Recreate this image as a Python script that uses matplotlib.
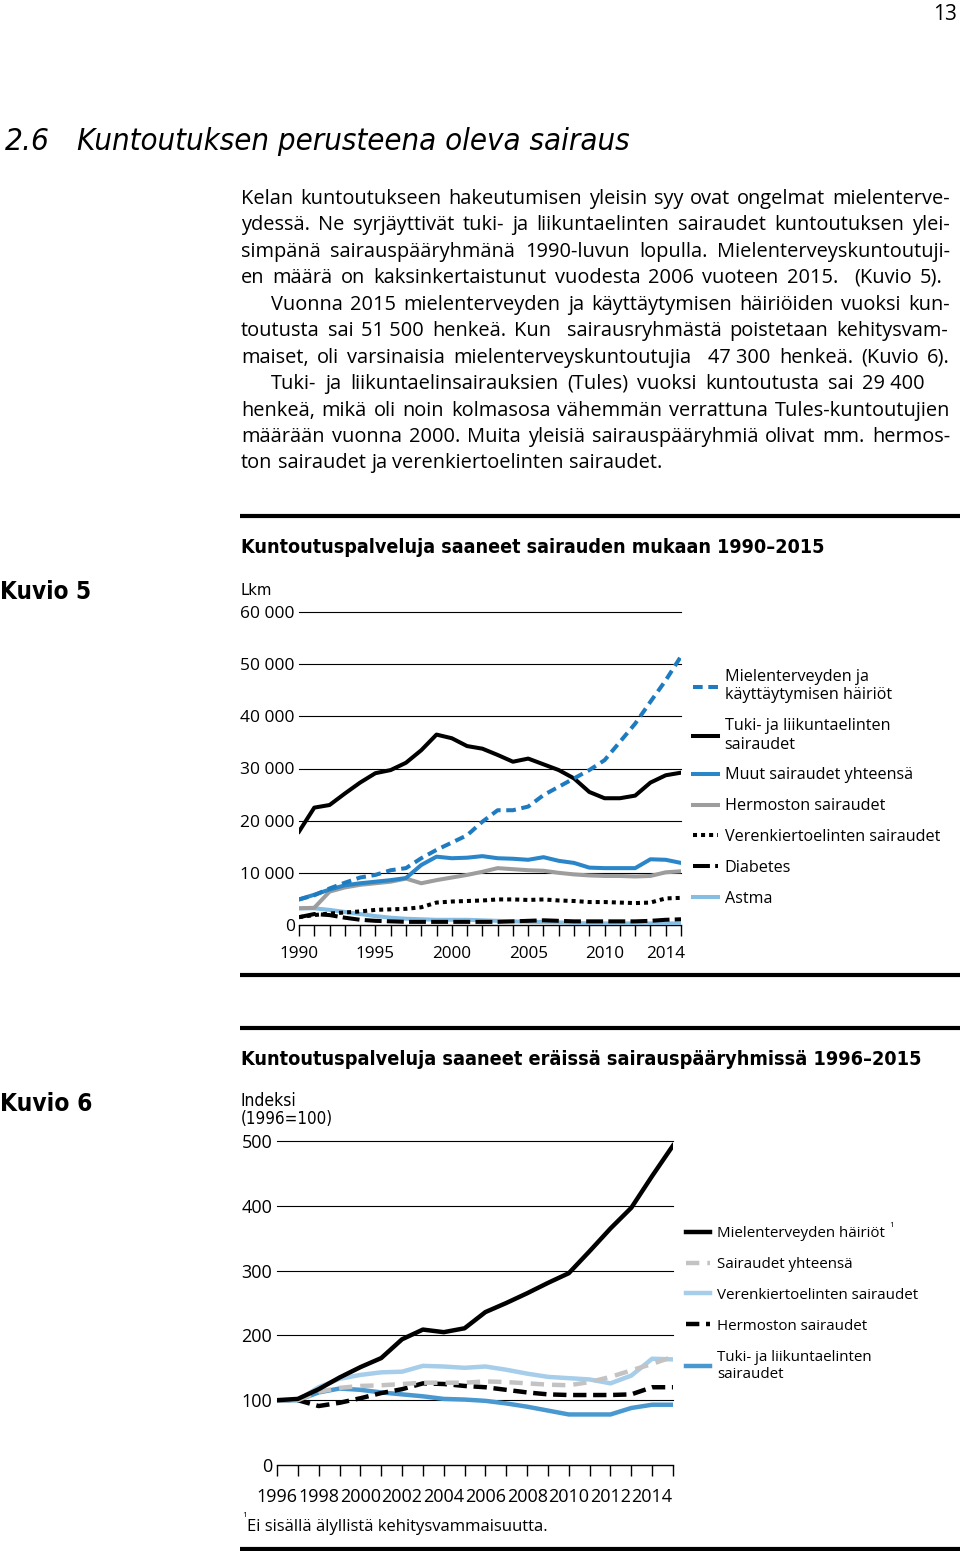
import matplotlib
matplotlib.use("Agg")
import matplotlib.pyplot as plt
from matplotlib import font_manager
from matplotlib.font_manager import FontProperties
from matplotlib.lines import Line2D

# ── Kuvio 5: Kuntoutuspalveluja saaneet sairauden mukaan 1990–2015 (lkm) ──
years5 = list(range(1990, 2016))
mielenterveys5 = [4900, 5700, 7000, 8100, 9100, 9600, 10500, 10900, 12800, 14400,
                  15800, 17200, 19800, 22000, 22000, 22700, 24900, 26500, 28100, 29700,
                  31600, 35100, 38600, 42800, 46900, 51500]
tuki5 = [17900, 22500, 23000, 25200, 27300, 29100, 29700, 31100, 33500, 36500,
         35800, 34300, 33800, 32600, 31300, 31900, 30800, 29700, 28100, 25500,
         24300, 24300, 24800, 27300, 28700, 29200]
muut5 = [4900, 5800, 6800, 7600, 8000, 8300, 8600, 9000, 11500, 13100,
         12800, 12900, 13200, 12800, 12700, 12500, 13000, 12300, 11900, 11000,
         10900, 10900, 10900, 12600, 12500, 11900]
hermoston5 = [3200, 3300, 6400, 7200, 7700, 8000, 8300, 8900, 8000, 8600,
              9100, 9600, 10200, 10900, 10700, 10500, 10400, 10000, 9700, 9500,
              9400, 9400, 9300, 9400, 10100, 10300]
verenkierto5 = [1500, 1900, 2200, 2400, 2600, 2900, 3000, 3100, 3400, 4300,
                4500, 4600, 4700, 4900, 4900, 4800, 4900, 4700, 4600, 4400,
                4400, 4300, 4200, 4300, 5100, 5200]
diabetes5 = [1500, 2100, 1900, 1400, 1000, 800, 700, 600, 600, 600,
             600, 600, 600, 600, 700, 800, 900, 800, 700, 700,
             700, 700, 700, 800, 1000, 1100]
astma5 = [3200, 3200, 2900, 2500, 2100, 1700, 1400, 1200, 1100, 1000,
          1000, 1000, 900, 800, 700, 600, 600, 500, 400, 300,
          300, 300, 300, 300, 300, 300]
yticks5 = [0, 10000, 20000, 30000, 40000, 50000, 60000]
yticklabels5 = ["0", "10 000", "20 000", "30 000", "40 000", "50 000", "60 000"]
xlabel_years5 = [1990, 1995, 2000, 2005, 2010, 2014]

# ── Kuvio 6: Kuntoutuspalveluja saaneet eräissä sairauspääryhmissä (1996=100) ──
years6 = list(range(1996, 2016))
mielenterveys6 = [100, 102, 117, 135, 151, 165, 194, 209, 205, 211,
                  236, 250, 265, 281, 296, 330, 365, 397, 446, 493]
yhteensa6 = [100, 100, 113, 119, 122, 123, 125, 127, 127, 127,
             129, 128, 126, 124, 123, 128, 136, 146, 156, 167]
verenkierto6 = [100, 100, 120, 133, 139, 143, 144, 153, 152, 150,
                152, 147, 141, 136, 134, 132, 126, 138, 164, 163]
hermoston6 = [100, 100, 91, 96, 103, 111, 117, 126, 125, 122,
              120, 116, 112, 109, 108, 108, 108, 109, 120, 120]
tuki6 = [100, 100, 112, 118, 116, 112, 109, 106, 102, 101,
         99, 95, 90, 84, 78, 78, 78, 88, 93, 93]
yticks6 = [0, 100, 200, 300, 400, 500]
xlabel_years6 = [1996, 1998, 2000, 2002, 2004, 2006, 2008, 2010, 2012, 2014]

# ── Page text ──
heading_no = "2.6"
heading = "Kuntoutuksen perusteena oleva sairaus"
body_lines = [
    "Kelan kuntoutukseen hakeutumisen yleisin syy ovat ongelmat mielenterve-",
    "ydessä. Ne syrjäyttivät tuki- ja liikuntaelinten sairaudet kuntoutuksen ylei-",
    "simpänä sairauspääryhmänä 1990-luvun lopulla. Mielenterveyskuntoutuji-",
    "en määrä on kaksinkertaistunut vuodesta 2006 vuoteen 2015.  (Kuvio 5).",
    "Vuonna 2015 mielenterveyden ja käyttäytymisen häiriöiden vuoksi kun-",
    "toutusta sai 51\u00a0500 henkeä. Kun  sairausryhmästä poistetaan kehitysvam-",
    "maiset, oli varsinaisia mielenterveyskuntoutujia  47\u00a0300 henkeä. (Kuvio 6).",
    "Tuki- ja liikuntaelinsairauksien (Tules) vuoksi kuntoutusta sai 29\u00a0400",
    "henkeä, mikä oli noin kolmasosa vähemmän verrattuna Tules-kuntoutujien",
    "määrään vuonna 2000. Muita yleisiä sairauspääryhmiä olivat mm. hermos-",
    "ton sairaudet ja verenkiertoelinten sairaudet.",
]
# paragraph layout: indented first lines and right edge of each line (None = ragged)
body_indent = [False, False, False, False, True, False, False, True, False, False, False]
body_right = [950, 950, 950, 943, 950, 948, 950, 925, 950, 950, None]

title5 = "Kuntoutuspalveluja saaneet sairauden mukaan 1990–2015"
title6 = "Kuntoutuspalveluja saaneet eräissä sairauspääryhmissä 1996–2015"
footnote = "Ei sisällä älyllistä kehitysvammaisuutta."

# ── Fonts: prefer a narrow sans cut when one is installed ──
_installed = {f.name for f in font_manager.fontManager.ttflist}
BODY = "Open Sans" if "Open Sans" in _installed else "DejaVu Sans"
_PREFS = ["Noto Sans", "Open Sans", "Roboto", "Liberation Sans Narrow", "Lato", "DejaVu Sans"]


def _weight(w):
    return w if isinstance(w, (int, float)) else font_manager.weight_dict.get(w, 400)


def narrow_font(bold=False, italic=False):
    styles = ("italic", "oblique") if italic else ("normal",)
    found = {}
    for f in font_manager.fontManager.ttflist:
        if f.name not in _PREFS:
            continue
        narrow = f.stretch in ("condensed", "semi-condensed") or "Narrow" in f.name
        wt = _weight(f.weight)
        if narrow and f.style in styles and (wt >= 600) == bold and (bold or wt >= 350):
            found.setdefault(f.name, f.fname)
    for p in _PREFS:
        if p in found:
            return FontProperties(fname=found[p])
    return FontProperties(family=BODY, weight="bold" if bold else "normal",
                          style="italic" if italic else "normal")


F_BODY = FontProperties(family=BODY)
F_TITLE = narrow_font(bold=True)
F_ITALIC = narrow_font(italic=True)
F_NARROW = narrow_font()

W, H = 960, 1551
fig = plt.figure(figsize=(W / 100, H / 100), dpi=100)
fig.patch.set_facecolor("white")
renderer = fig.canvas.get_renderer()


def fx(px):
    return px / W


def fy(py):
    return 1 - py / H


def _fp(font, size):
    p = font.copy()
    p.set_size(size)
    return p


def measure(s, size, font):
    t = fig.text(0, 0, s, fontproperties=_fp(font, size))
    w = t.get_window_extent(renderer).width
    t.remove()
    return w


def put(x, y, s, size, font, width=None, **kw):
    """Text with baseline at pixel (x, y); optionally scaled to a pixel width."""
    if width:
        size = size * width / measure(s, size, font)
    return fig.text(fx(x), fy(y), s, fontproperties=_fp(font, size), va="baseline", **kw)


def rule(y, lw=3.0):
    fig.add_artist(Line2D([fx(240), 1.0], [fy(y), fy(y)], color="black",
                          lw=lw, solid_capstyle="butt"))


# ── Header ───────────────────────────────────────────────────────────────
put(957, 20, "13", 15, F_BODY, ha="right")
put(5, 150, heading_no, 24, F_ITALIC, width=45)
put(77, 150, heading, 24, F_ITALIC, width=555)

# ── Body paragraph (justified) ───────────────────────────────────────────
base = 14
ratios = []
for s, ind, right in zip(body_lines, body_indent, body_right):
    if right:
        ratios.append(measure(s, base, F_BODY) / (right - (271 if ind else 241)))
body_size = base * 0.99 / max(ratios)
space = measure("a a", body_size, F_BODY) - measure("aa", body_size, F_BODY)

for i, (s, ind, right) in enumerate(zip(body_lines, body_indent, body_right)):
    y = round(204 + i * 26.45)
    x0 = 271 if ind else 241
    words = s.split(" ")
    widths = [measure(w, body_size, F_BODY) if w else 0 for w in words]
    gap = (right - x0 - sum(widths)) / (len(words) - 1) if right else space
    x = x0
    for w, ww in zip(words, widths):
        if w:
            put(x, y, w, body_size, F_BODY)
        x += ww + gap

# ── Kuvio 5 ──────────────────────────────────────────────────────────────
rule(516)
put(241, 553, title5, 16, F_TITLE, width=587)
put(0, 599, "Kuvio 5", 20, F_TITLE, width=91)
put(241, 595, "Lkm", 12, F_NARROW, width=31)

ax1 = fig.add_axes([fx(299), fy(925), (681 - 299) / W, (925 - 612) / H])
ax1.patch.set_alpha(0)
ax1.set_xlim(1990, 2015)
ax1.set_ylim(0, 60000)
for v in yticks5[1:]:
    ax1.axhline(v, color="black", lw=0.8, zorder=1, clip_on=False)

lw1 = 2.9
h_astma, = ax1.plot(years5, astma5, color="#86bde3", lw=lw1, label="Astma", zorder=3)
h_diab, = ax1.plot(years5, diabetes5, color="black", lw=lw1, ls=(0, (4.2, 1.3)),
                   label="Diabetes", zorder=3)
h_ver, = ax1.plot(years5, verenkierto5, color="black", lw=lw1, ls=(0, (1, 1)),
                  label="Verenkiertoelinten sairaudet", zorder=3)
h_her, = ax1.plot(years5, hermoston5, color="#9d9d9d", lw=lw1,
                  label="Hermoston sairaudet", zorder=3)
h_muut, = ax1.plot(years5, muut5, color="#2a86c8", lw=lw1,
                   label="Muut sairaudet yhteensä", zorder=4)
h_tuki, = ax1.plot(years5, tuki5, color="black", lw=lw1,
                   label="Tuki- ja liikuntaelinten\nsairaudet", zorder=4)
h_miel, = ax1.plot(years5, mielenterveys5, color="#1f7bbf", lw=lw1, ls=(0, (2.4, 1.4)),
                   label="Mielenterveyden ja\nkäyttäytymisen häiriöt", zorder=5)

ax1.set_yticks(yticks5, yticklabels5)
ax1.set_xticks(years5, [str(y) if y in xlabel_years5 else "" for y in years5])
ax1.tick_params(axis="y", length=0, pad=3, labelsize=12.5, labelfontfamily=BODY)
ax1.tick_params(axis="x", direction="out", length=8, width=1, pad=7,
                labelsize=12.3, labelfontfamily=BODY)
for side in ("left", "top", "right"):
    ax1.spines[side].set_visible(False)
ax1.spines["bottom"].set_linewidth(1)

ax1.legend(handles=[h_miel, h_tuki, h_muut, h_her, h_ver, h_diab, h_astma],
           loc="upper left", bbox_to_anchor=(fx(693), fy(669)),
           bbox_transform=fig.transFigure, frameon=False, borderpad=0,
           borderaxespad=0, handlelength=1.55, handletextpad=0.42,
           labelspacing=0.92, prop={"family": BODY, "size": 11.6})

rule(975)

# ── Kuvio 6 ──────────────────────────────────────────────────────────────
rule(1028)
put(241, 1065, title6, 16, F_TITLE, width=682)
put(0, 1111, "Kuvio 6", 20, F_TITLE, width=92)
put(241, 1106, "Indeksi", 12, F_NARROW, width=56)
put(241, 1124, "(1996=100)", 12, F_NARROW, width=92)

ax2 = fig.add_axes([fx(277), fy(1465), (673 - 277) / W, (1465 - 1141) / H])
ax2.patch.set_alpha(0)
ax2.set_xlim(1996, 2015)
ax2.set_ylim(0, 500)
for v in yticks6[1:]:
    ax2.axhline(v, color="black", lw=0.8, zorder=1, clip_on=False)

lw2 = 3.2
g_tuki, = ax2.plot(years6, tuki6, color="#4a98d0", lw=lw2,
                   label="Tuki- ja liikuntaelinten\nsairaudet", zorder=3)
g_her, = ax2.plot(years6, hermoston6, color="black", lw=lw2, ls=(0, (3, 1.5)),
                  label="Hermoston sairaudet", zorder=3)
g_ver, = ax2.plot(years6, verenkierto6, color="#a6cde9", lw=lw2,
                  label="Verenkiertoelinten sairaudet", zorder=3)
g_yht, = ax2.plot(years6, yhteensa6, color="#c3c3c3", lw=lw2, ls=(0, (3, 1.8)),
                  label="Sairaudet yhteensä", zorder=4)
g_miel, = ax2.plot(years6, mielenterveys6, color="black", lw=lw2,
                   label="Mielenterveyden häiriöt", zorder=5)

ax2.set_yticks(yticks6, [str(v) for v in yticks6])
ax2.set_xticks(years6, [str(y) if y in xlabel_years6 else "" for y in years6])
ax2.tick_params(axis="y", length=0, pad=3.5, labelsize=13, labelfontfamily=BODY)
ax2.tick_params(axis="x", direction="out", length=8, width=1, pad=8.5,
                labelsize=13, labelfontfamily=BODY)
for side in ("left", "top", "right"):
    ax2.spines[side].set_visible(False)
ax2.spines["bottom"].set_linewidth(1)

leg2 = ax2.legend(handles=[g_miel, g_yht, g_ver, g_her, g_tuki],
                  loc="upper left", bbox_to_anchor=(fx(686), fy(1226)),
                  bbox_transform=fig.transFigure, frameon=False, borderpad=0,
                  borderaxespad=0, handlelength=1.6, handletextpad=0.45,
                  labelspacing=1.05, prop={"family": BODY, "size": 10.9})

# footnote marker after the first legend label
fig.canvas.draw()
bb = leg2.get_texts()[0].get_window_extent(renderer)
fig.text((bb.x1 + 4) / W, (bb.y1 + 4) / H, "1", fontsize=6, family=BODY, va="top")

put(242, 1517, "1", 6, F_BODY)
put(247, 1531, footnote, 12, F_BODY, width=301)
rule(1549)

fig.savefig("out.png", dpi=100, facecolor="white")
